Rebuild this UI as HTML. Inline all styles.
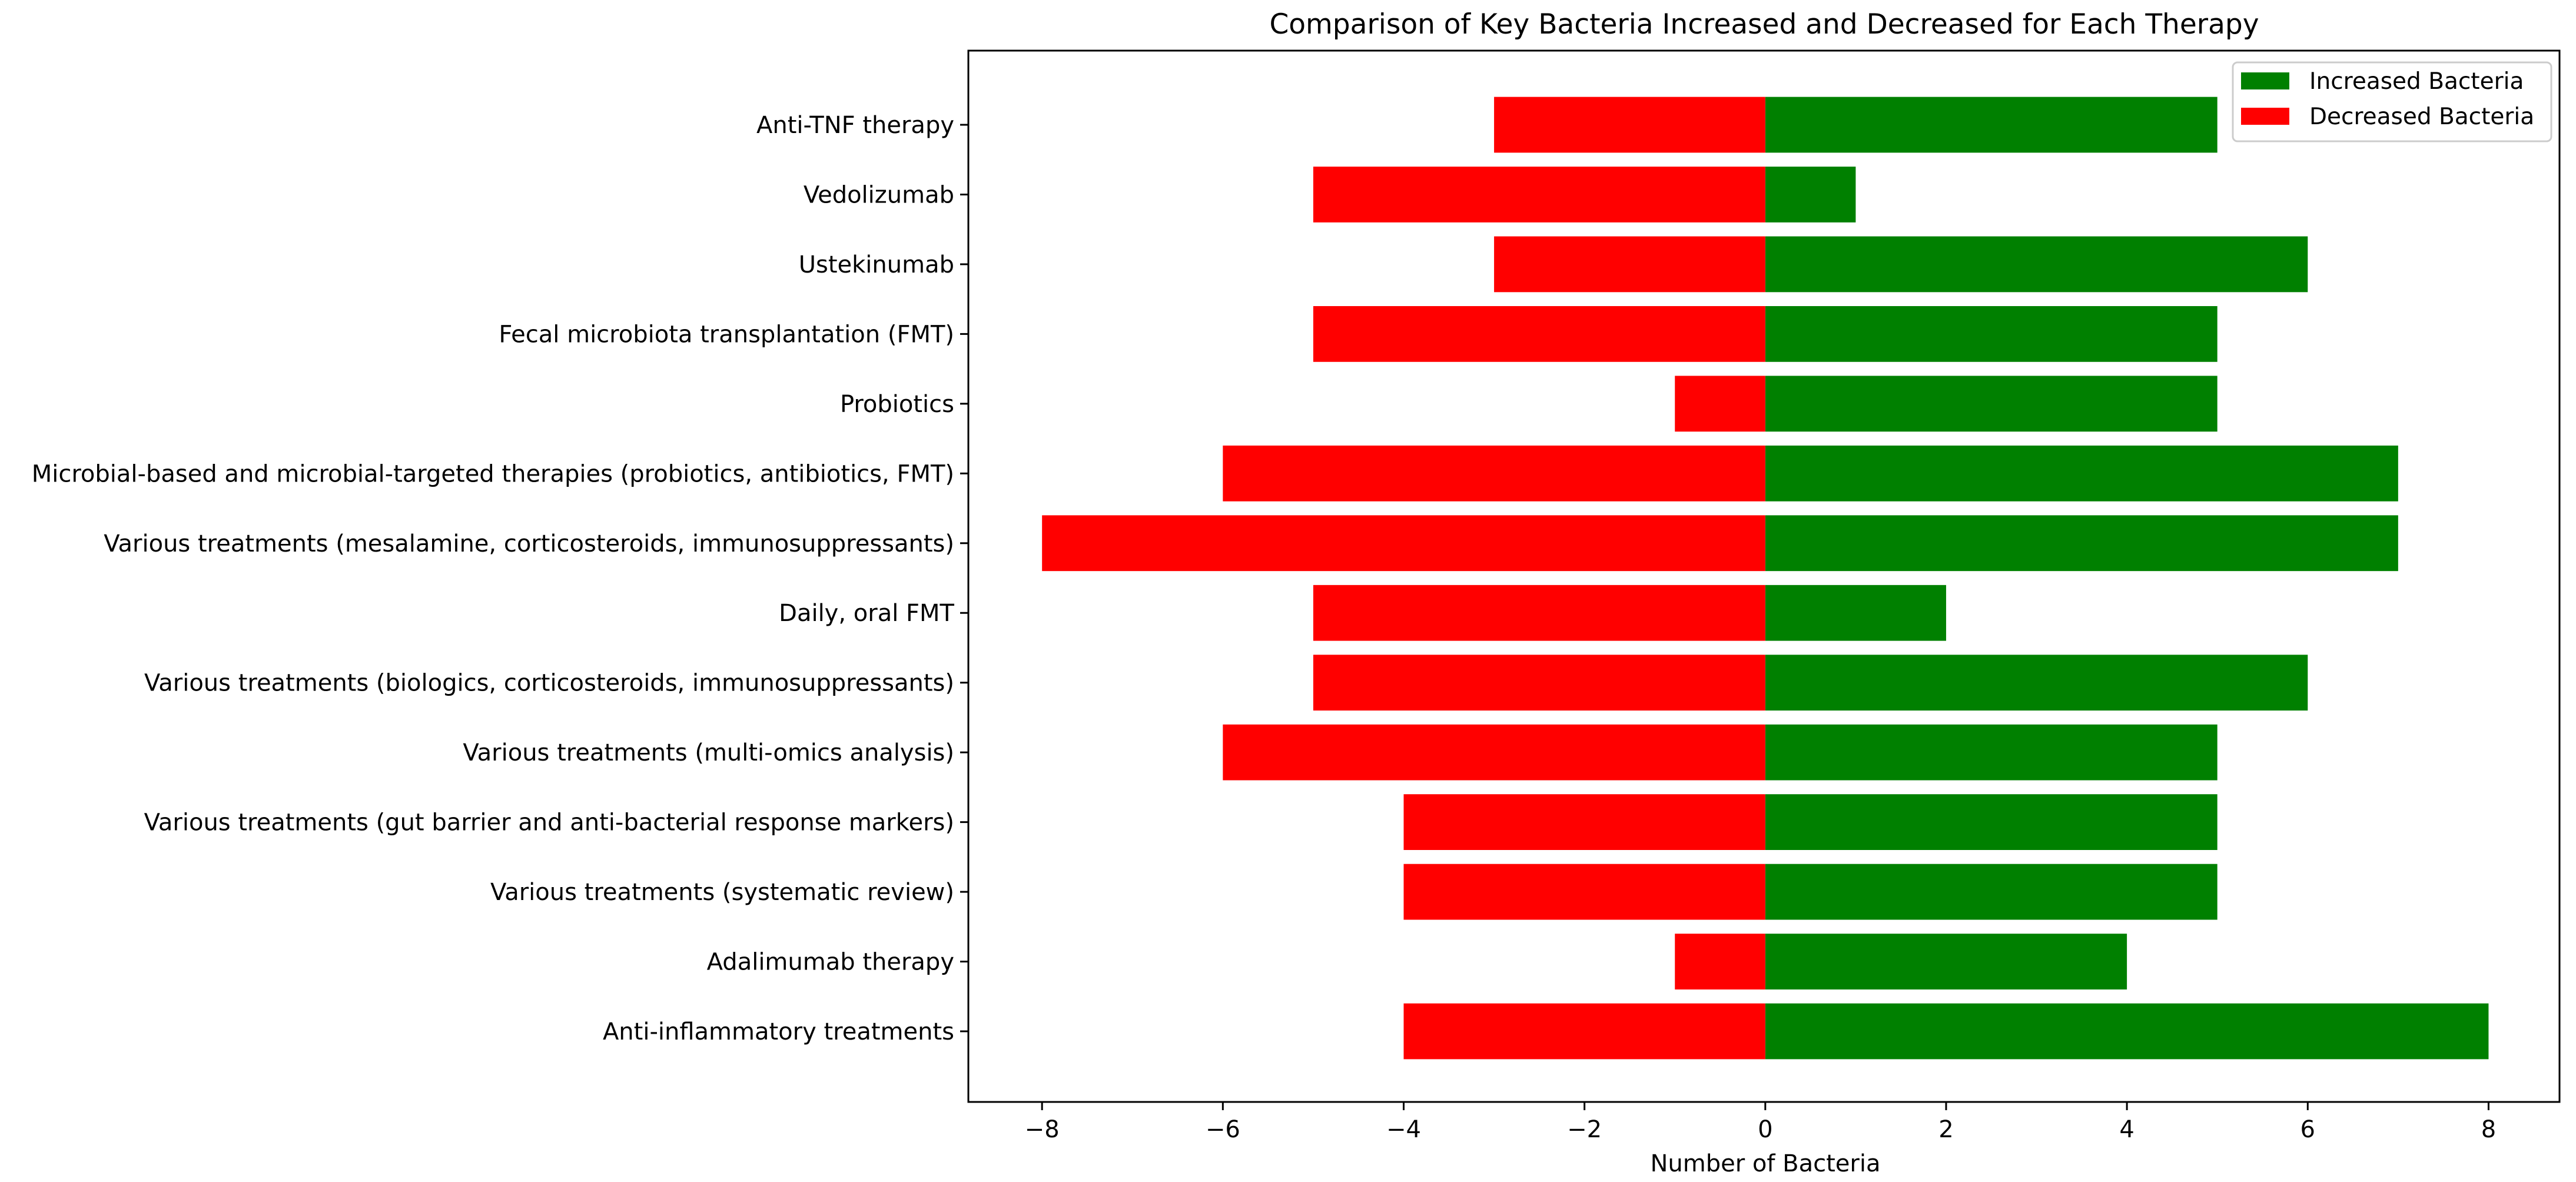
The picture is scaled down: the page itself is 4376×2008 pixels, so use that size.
<!DOCTYPE html>
<html><head><meta charset="utf-8"><style>
html,body{margin:0;padding:0;background:#fff;}
svg{display:block;font-family:"DejaVu Sans","Liberation Sans",sans-serif;}
</style></head><body>
<svg id="chart" width="4376" height="2008" viewBox="0 0 4376 2008" xmlns="http://www.w3.org/2000/svg">
<rect width="4376" height="2008" fill="#fff"/>
<text x="2997" y="57" font-size="47" text-anchor="middle">Comparison of Key Bacteria Increased and Decreased for Each Therapy</text>
<g id="bars"></g>
<g id="yaxis"></g>
<g id="xaxis"></g>
<rect x="1645" y="86" width="2703" height="1786" fill="none" stroke="#000" stroke-width="3"/>
<text x="2999" y="1990" font-size="40" text-anchor="middle">Number of Bacteria</text>
<g>
<rect x="3793" y="106" width="541" height="134" rx="8" fill="#fff" stroke="#ccc" stroke-width="3"/>
<rect x="3807" y="123" width="82" height="29" fill="#008000"/>
<text x="3923" y="151" font-size="39">Increased Bacteria</text>
<rect x="3807" y="183" width="82" height="29" fill="#ff0000"/>
<text x="3923" y="211" font-size="39">Decreased Bacteria</text>
</g>
</svg>
<script>
const categories = ["Anti-TNF therapy","Vedolizumab","Ustekinumab","Fecal microbiota transplantation (FMT)","Probiotics","Microbial-based and microbial-targeted therapies (probiotics, antibiotics, FMT)","Various treatments (mesalamine, corticosteroids, immunosuppressants)","Daily, oral FMT","Various treatments (biologics, corticosteroids, immunosuppressants)","Various treatments (multi-omics analysis)","Various treatments (gut barrier and anti-bacterial response markers)","Various treatments (systematic review)","Adalimumab therapy","Anti-inflammatory treatments"];
const increased = [5,1,6,5,5,7,7,2,6,5,5,5,4,8];
const decreased = [3,5,3,5,1,6,8,5,5,6,4,4,1,4];
const xTicks = [-8,-6,-4,-2,0,2,4,6,8];
const xTickLabels = ["\u22128","\u22126","\u22124","\u22122","0","2","4","6","8"];

const NS="http://www.w3.org/2000/svg";
const X0=1645,X1=4348,Y1=1872;
const XMIN=-8.815,XMAX=8.785;
function xs(v){return X0+(v-XMIN)/(XMAX-XMIN)*(X1-X0);}
const n=categories.length;
const YTOP=212,YBOT=1752;
function ys(i){return YBOT-i*(YBOT-YTOP)/(n-1);}
const unit=(YBOT-YTOP)/(n-1), bh=0.8*unit;
function mk(tag,attrs,parent){const e=document.createElementNS(NS,tag);for(const k in attrs)e.setAttribute(k,attrs[k]);parent.appendChild(e);return e;}
const bars=document.getElementById('bars'),ya=document.getElementById('yaxis'),xa=document.getElementById('xaxis');
categories.forEach((c,k)=>{
  const i=n-1-k, cy=ys(i);
  const g=mk('rect',{x:xs(0),y:cy-bh/2,width:xs(increased[k])-xs(0),height:bh,fill:'#008000'},bars);
  
  
  const r=mk('rect',{x:xs(-decreased[k]),y:cy-bh/2,width:xs(0)-xs(-decreased[k]),height:bh,fill:'#ff0000'},bars);
  
  
  const t=mk('line',{x1:X0-14,x2:X0,y1:cy,y2:cy,stroke:'#000','stroke-width':3},ya);
  
  
  const l=mk('text',{x:X0-24,y:cy+14,'font-size':40,'text-anchor':'end'},ya);
  l.textContent=c;
  
  
});
xTicks.forEach((v,j)=>{
  const t=mk('line',{x1:xs(v),x2:xs(v),y1:Y1,y2:Y1+14,stroke:'#000','stroke-width':3},xa);
  
  
  const l=mk('text',{x:xs(v),y:Y1+60,'font-size':40,'text-anchor':'middle'},xa);
  l.textContent=xTickLabels[j];
  
  
});
</script>
</body></html>
